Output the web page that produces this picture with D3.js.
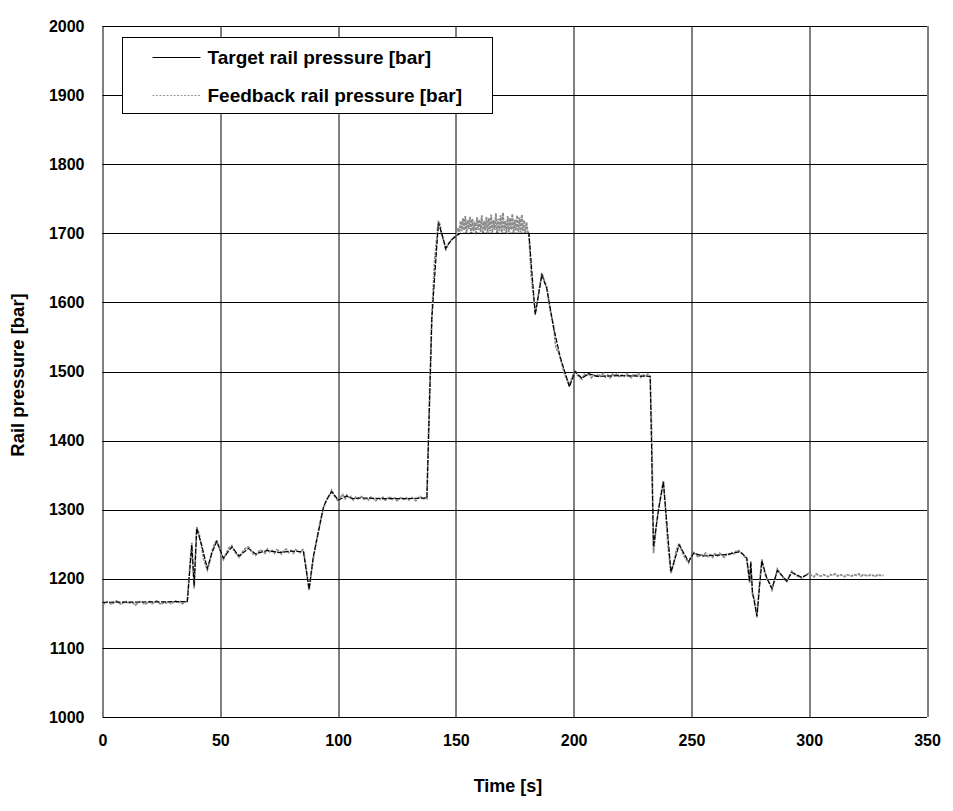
<!DOCTYPE html>
<html>
<head>
<meta charset="utf-8">
<script src="https://cdn.jsdelivr.net/npm/d3@7"></script>
<style>
  body { margin: 0; background: #fff; }
  text { font-family: "Liberation Sans", Arial, sans-serif; font-weight: bold; fill: #000; }
</style>
</head>
<body>
<svg id="chart" width="953" height="811"></svg>
<script>
// ---- data ----
const xTicks = [0, 50, 100, 150, 200, 250, 300, 350];
const yTicks = [1000, 1100, 1200, 1300, 1400, 1500, 1600, 1700, 1800, 1900, 2000];
const seriesNames = ["Target rail pressure [bar]", "Feedback rail pressure [bar]"];

const targetData = [
  [0,1166],[36,1167],[37.9,1249],[38.9,1190],[40,1273],[42,1250],[44.5,1215],[46.5,1238],[48.5,1254],
  [51.3,1230],[54.9,1246],[58,1233],[62,1244],[65,1236],[70,1241],[75,1238],[80,1240],[85.3,1239],
  [87.7,1185],[89.5,1232],[93.8,1304],[95.9,1319],[97.3,1326],[100.1,1314],[103.7,1320],[106,1316],
  [110,1317],[120,1316],[130,1316],[137.7,1317],[139.8,1577],[142.6,1715],[144,1700],[145.7,1678],
  [148,1690],[150.4,1697],[152,1700],[181,1700],[183.7,1582],[186.5,1640],[188.6,1620],[191.4,1565],
  [194.3,1521],[198.2,1478],[200.6,1500],[203.5,1490],[206.3,1497],[210,1493],[220,1494],[232.5,1493],
  [233.9,1246],[236,1300],[238.1,1340],[241.3,1210],[244.8,1249],[248.8,1225],[250.9,1237],[255,1233],
  [260,1234],[265,1235],[270,1239],[271.4,1237],[273.5,1230],[274.7,1196],[275.2,1225],[275.9,1181],
  [277.8,1146],[279.9,1226],[282,1201],[284.2,1186],[286.5,1212],[290.5,1197],[292.6,1209],[296.9,1202],
  [299.7,1207]
];

const feedbackData = [
  [0,1166],[1,1164],[2,1167],[3,1165],[4,1163],[5,1166],[6,1168],[7,1165],[8,1163],[9,1166],[10,1167],
  [11,1164],[12,1166],[13,1165],[14,1162],[15,1165],[16,1167],[17,1166],[18,1163],[19,1165],[20,1167],
  [21,1164],[22,1166],[23,1168],[24,1165],[25,1163],[26,1166],[27,1165],[28,1167],[29,1164],[30,1166],
  [31,1168],[32,1165],[33,1167],[34,1164],[35,1166],[36,1168],
  [37,1215],[37.9,1252],[38.9,1186],[40,1275],[41,1265],[42,1248],[43,1228],[44.5,1213],[45.5,1225],
  [46.5,1240],[47.5,1250],[48.5,1256],[49.5,1246],[50.5,1234],[51.3,1228],[52.5,1236],[53.5,1244],
  [54.9,1248],[56,1240],[57,1235],[58,1231],[59,1236],[60,1242],[61,1245],[62,1246],[63,1241],[64,1236],
  [65,1234],[66,1238],[67,1242],[68,1240],[69,1237],[70,1243],[71,1239],[72,1241],[73,1237],[74,1242],
  [75,1240],[76,1236],[77,1241],[78,1243],[79,1238],[80,1241],[81,1237],[82,1242],[83,1240],[84,1238],
  [85,1242],[85.5,1238],[86.5,1215],[87.7,1183],[88.5,1205],[89.5,1230],[91,1258],[92.5,1283],[93.8,1302],
  [95,1314],[95.9,1318],[97.3,1328],[98.5,1320],[100.1,1312],[101,1318],[102,1322],[103,1316],[103.7,1321],
  [104.5,1317],[105.5,1319],[106.5,1314],[107.5,1318],[108.5,1316],[110,1319],[111,1315],[112,1317],
  [113,1314],[114,1318],[115,1316],[116,1313],[117,1317],[118,1315],[119,1318],[120,1314],[121,1316],
  [122,1319],[123,1315],[124,1317],[125,1313],[126,1316],[127,1318],[128,1315],[129,1317],[130,1314],
  [131,1318],[132,1316],[133,1313],[134,1317],[135,1319],[136,1315],[137,1317],[137.7,1316],
  [138.5,1420],[139.8,1580],[141,1660],[142.6,1718],[143.3,1712],[144,1698],[145,1688],[145.7,1675],
  [146.5,1684],[147.5,1688],[148.5,1692],[149.5,1695],[150.4,1698],[151,1708],[151.5,1702],
  [152,1718],[152.5,1703],[153,1722],[153.5,1704],[154,1725],[154.5,1701],[155,1719],[155.5,1706],
  [156,1724],[156.5,1700],[157,1721],[157.5,1703],[158,1717],[158.5,1698],[159,1723],[159.5,1705],
  [160,1720],[160.5,1702],[161,1726],[161.5,1699],[162,1718],[162.5,1704],[163,1724],[163.5,1700],
  [164,1722],[164.5,1703],[165,1727],[165.5,1701],[166,1719],[166.5,1705],[167,1729],[167.5,1700],
  [168,1721],[168.5,1703],[169,1726],[169.5,1701],[170,1730],[170.5,1704],[171,1718],[171.5,1699],
  [172,1725],[172.5,1702],[173,1722],[173.5,1705],[174,1728],[174.5,1700],[175,1720],[175.5,1704],
  [176,1726],[176.5,1702],[177,1723],[177.5,1701],[178,1727],[178.5,1703],[179,1719],[179.5,1700],
  [180,1716],[180.5,1702],[181,1700],
  [182,1640],[183.7,1585],[184.5,1600],[186.5,1642],[187.5,1632],[188.6,1622],[190,1590],[191.4,1567],
  [192.5,1535],[193.5,1528],[194.3,1520],[196,1498],[198.2,1480],[199,1488],[200.6,1502],[201.5,1495],
  [202.5,1492],[203.5,1489],[204.5,1496],[205.5,1493],[206.3,1498],[207.5,1491],[208.5,1495],[209.5,1492],
  [210.5,1496],[211.5,1493],[212.5,1497],[213.5,1492],[214.5,1495],[215.5,1491],[216.5,1496],[217.5,1494],
  [218.5,1497],[219.5,1492],[220.5,1495],[221.5,1493],[222.5,1497],[223.5,1494],[224.5,1491],[225.5,1496],
  [226.5,1494],[227.5,1497],[228.5,1492],[229.5,1495],[230.5,1493],[231.5,1496],[232.5,1492],
  [233.2,1400],[233.9,1237],[235,1275],[236.5,1310],[238.1,1342],[239,1300],[240,1250],[241.3,1208],
  [242.5,1222],[243.5,1240],[244.8,1251],[246,1240],[247,1232],[248.8,1223],[249.8,1232],[250.9,1238],
  [252,1235],[253,1231],[254,1236],[255,1233],[256,1237],[257,1232],[258,1235],[259,1231],[260,1236],
  [261,1233],[262,1237],[263,1234],[264,1231],[265,1236],[266,1235],[267,1238],[268,1236],[269,1240],
  [270,1241],[271,1238],[272,1235],[273.5,1228],[274.7,1194],[275.2,1222],[275.9,1178],[276.8,1170],
  [277.8,1144],[278.8,1190],[279.9,1228],[281,1210],[282,1200],[283,1195],[284.2,1184],[285.5,1200],
  [286.5,1214],[288,1206],[289.5,1199],[290.5,1196],[291.5,1204],[292.6,1211],[294,1206],[295.5,1203],
  [296.9,1201],[298,1204],[299.7,1208],[301,1205],[302,1203],[303,1207],[304,1205],[305,1204],[306,1206],
  [307,1205],[308,1203],[309,1206],[310,1205],[311,1207],[312,1204],[313,1206],[314,1205],[315,1203],
  [316,1206],[317,1205],[318,1204],[319,1206],[320,1205],[321,1207],[322,1204],[323,1206],[324,1205],
  [325,1204],[326,1206],[327,1205],[328,1203],[329,1206],[330,1205],[331.6,1205]
];

// ---- layout ----
const svg = d3.select("#chart");
const margin = {left: 102.5, top: 26, right: 26, bottom: 94};
const W = 953, H = 811;
const iw = W - margin.left - margin.right;
const ih = H - margin.top - margin.bottom;

const x = d3.scaleLinear().domain([0, 350]).range([0, iw]);
const y = d3.scaleLinear().domain([1000, 2000]).range([ih, 0]);

const g = svg.append("g").attr("transform", `translate(${margin.left},${margin.top})`);

// grid
g.append("g").selectAll("line").data(xTicks).join("line")
  .attr("x1", d => Math.round(x(d)) + 0.5).attr("x2", d => Math.round(x(d)) + 0.5)
  .attr("y1", 0).attr("y2", ih).attr("stroke", "#000").attr("stroke-width", 1);
g.append("g").selectAll("line").data(yTicks).join("line")
  .attr("y1", d => Math.round(y(d)) + 0.5).attr("y2", d => Math.round(y(d)) + 0.5)
  .attr("x1", 0).attr("x2", iw).attr("stroke", "#000").attr("stroke-width", 1);

// axes (labels only)
const xAxis = g.append("g").attr("transform", `translate(0,${ih})`)
  .call(d3.axisBottom(x).tickValues(xTicks).tickSize(0).tickPadding(18).tickFormat(d3.format("d")));
xAxis.select(".domain").remove();
xAxis.selectAll("text").style("font-size", "16px").style("font-family", "Liberation Sans, Arial, sans-serif").style("font-weight", "bold");

const yAxis = g.append("g")
  .call(d3.axisLeft(y).tickValues(yTicks).tickSize(0).tickPadding(18).tickFormat(d3.format("d")));
yAxis.select(".domain").remove();
yAxis.selectAll("text").style("font-size", "16px").style("font-family", "Liberation Sans, Arial, sans-serif").style("font-weight", "bold");

// lines: feedback underneath (wider grey), target on top
const line = d3.line().x(d => x(d[0])).y(d => y(d[1]));
g.append("path").datum(feedbackData).attr("d", line)
  .attr("fill", "none").attr("stroke", "#8c8c8c").attr("stroke-width", 1.8)
  .attr("stroke-dasharray", "3,1");
g.append("path").datum(targetData).attr("d", line)
  .attr("fill", "none").attr("stroke", "#000").attr("stroke-width", 1.2)
  .attr("stroke-dasharray", "5,1.5");

// legend
const lg = svg.append("g").attr("transform", "translate(122.5,37.5)");
lg.append("rect").attr("width", 370).attr("height", 76).attr("fill", "#fff").attr("stroke", "#000");
const rows = [
  {name: seriesNames[0], color: "#000", dash: null, yy: 20},
  {name: seriesNames[1], color: "#9a9a9a", dash: "2,1.5", yy: 58}
];
rows.forEach(r => {
  lg.append("line").attr("x1", 30).attr("x2", 78).attr("y1", r.yy).attr("y2", r.yy)
    .attr("stroke", r.color).attr("stroke-width", 1).attr("stroke-dasharray", r.dash);
  lg.append("text").attr("x", 85).attr("y", r.yy).attr("dy", "0.35em")
    .style("font-size", "19px").text(r.name);
});

// axis titles
svg.append("text").attr("x", 508).attr("y", 792)
  .attr("text-anchor", "middle").style("font-size", "18px").text("Time [s]");
svg.append("text").attr("transform", `translate(24,375) rotate(-90)`)
  .attr("text-anchor", "middle").style("font-size", "18.5px").text("Rail pressure [bar]");
</script>
</body>
</html>
